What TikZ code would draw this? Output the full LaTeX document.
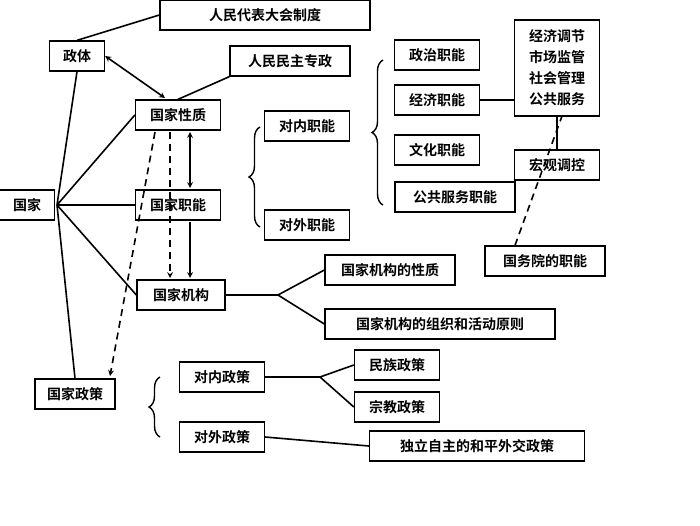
\documentclass[tikz,border=0pt]{standalone}
\usepackage{fontspec}
\setmainfont{Noto Sans CJK SC}[BoldFont={Noto Sans CJK SC Bold}]
\usetikzlibrary{decorations.pathreplacing}
\tikzset{box/.style={draw,line width=1.3pt,inner sep=0pt,minimum height=30pt,font=\fontsize{14}{16}\selectfont\bfseries},
  link/.style={line width=1.6pt},
  dashlink/.style={line width=1.6pt,dash pattern=on 7pt off 5pt},
  brc/.style={line width=1.4pt,decorate,decoration={brace,amplitude=11pt}}}
\begin{document}
\begin{tikzpicture}[x=1pt,y=-1pt]
  \useasboundingbox (0,0) rectangle (700,525);
  \node[box,minimum width=210pt] (rdz) at (265,15) {人民代表大会制度};
  \node[box,minimum width=55pt] (zt) at (77,56) {政体};
  \node[box,minimum width=120pt] (rmzz) at (290,61) {人民民主专政};
  \node[box,minimum width=85pt] (xz) at (178,115) {国家性质};
  \node[box,minimum width=85pt] (zn) at (178,205) {国家职能};
  \node[box,minimum width=55pt] (gj) at (27,205) {国家};
  \node[box,minimum width=88pt] (jg) at (181,295) {国家机构};
  \node[box,minimum width=85pt] (dnzn) at (307,126) {对内职能};
  \node[box,minimum width=85pt] (dwzn) at (307,225) {对外职能};
  \node[box,minimum width=85pt] (zz) at (437,55) {政治职能};
  \node[box,minimum width=85pt] (jj) at (437,100) {经济职能};
  \node[box,minimum width=85pt] (wh) at (437,150) {文化职能};
  \node[box,minimum width=120pt] (ggfw) at (455,197) {公共服务职能};
  \node[box,minimum width=85pt,minimum height=96pt,align=center,
    font=\fontsize{14}{21}\selectfont\bfseries] (jjtj) at (557,68) {经济调节\\市场监管\\社会管理\\公共服务};
  \node[box,minimum width=85pt] (hgtk) at (557,165) {宏观调控};
  \node[box,minimum width=120pt] (gwy) at (545,261) {国务院的职能};
  \node[box,minimum width=130pt] (jgxz) at (390,270) {国家机构的性质};
  \node[box,minimum width=230pt] (jgzz) at (440,324) {国家机构的组织和活动原则};
  \node[box,minimum width=80pt] (zc) at (75,394) {国家政策};
  \node[box,minimum width=85pt] (dnzc) at (222,377) {对内政策};
  \node[box,minimum width=85pt] (dwzc) at (222,437) {对外政策};
  \node[box,minimum width=85pt] (mz) at (397,365) {民族政策};
  \node[box,minimum width=85pt] (zj) at (397,407) {宗教政策};
  \node[box,minimum width=215pt] (dlzz) at (477,446) {独立自主的和平外交政策};
  \coordinate (hub) at (57,205);
  \coordinate (jgfork) at (278,295);
  \coordinate (dnfork) at (320,377);
  % 国家
  \draw[link] (hub) -- (zt.south) (hub) -- (zc.north)
    (hub) -- (xz.west) (hub) -- (zn.west) (hub) -- (jg.west);
  \draw[link] (zt.north) -- (rdz.west);
  \draw[link] (xz.north) -- (rmzz.south west);
  \draw[link,<->,>=stealth] (zt.east) -- (165,98);
  \draw[link,<->,>=stealth] (190,132) -- (190,188);
  \draw[link,->,>=stealth] (190,222) -- (190,278);
  \draw[dashlink,->,>=stealth] (170,132) -- (170,278);
  \draw[dashlink,->,>=stealth] (155,132) -- (110,376);
  % braces
  \draw[brc] (260,227) -- (260,127);
  \draw[brc] (383,205) -- (383,60);
  \draw[brc] (160,437) -- (160,377);
  \draw[link] (jg.east) -- (jgfork) -- (jgxz.west) (jgfork) -- (jgzz.west);
  \draw[link] (dnzc.east) -- (dnfork) -- (mz.west) (dnfork) -- (zj.west);
  \draw[link] (dwzc.east) -- (dlzz.west);
  \draw[link] (jj.east) -- (jj.east -| jjtj.west);
  \draw[link] (jjtj.south) -- (hgtk.north);
  \draw[dashlink] (gwy.north) ++(-30,0) -- (562,116);
\end{tikzpicture}
\end{document}
